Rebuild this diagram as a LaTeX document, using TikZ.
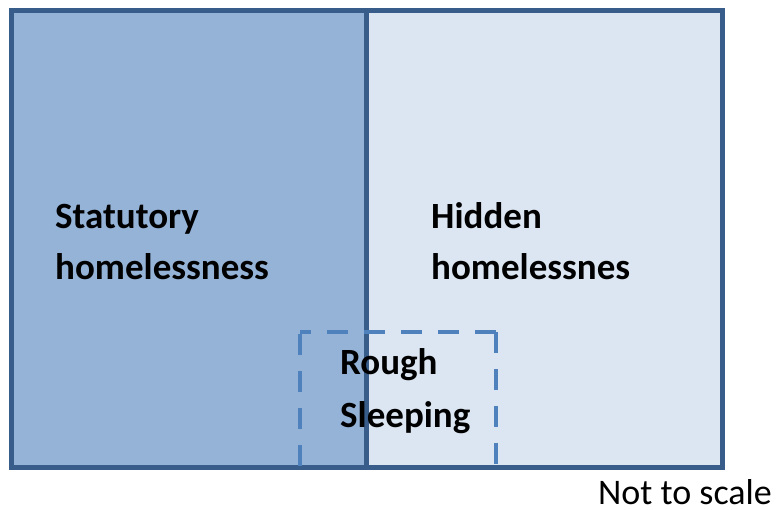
\documentclass[tikz,border=0pt]{standalone}
\usepackage{fontspec}
\setmainfont{Carlito}
\definecolor{statfill}{HTML}{95B3D7}
\definecolor{hidfill}{HTML}{DCE6F2}
\definecolor{border}{HTML}{385D8A}
\definecolor{dashcol}{HTML}{4F81BD}
\begin{document}
\begin{tikzpicture}[x=1pt,y=-1pt,
  frame/.style={draw=border,line width=5pt,line join=miter},
  roughline/.style={draw=dashcol,line width=4.5pt,dash pattern=on 21pt off 16pt},
  lbl/.style={anchor=base west,inner sep=0pt,font=\fontsize{37}{44}\selectfont\bfseries},
  note/.style={anchor=base west,inner sep=0pt,font=\fontsize{36}{43}\selectfont}]
\useasboundingbox (0,0) rectangle (777,510);
\coordinate (tl) at (11,11);
\coordinate (br) at (722,468);
\coordinate (dt) at (366,11);
\coordinate (db) at (366,468);
\fill[statfill] (tl) rectangle (db);
\fill[hidfill] (dt) rectangle (br);
\draw[frame] (tl) rectangle (br);
\draw[frame] (dt) -- (db);
% rough sleeping dashed box
\coordinate (rbl) at (300,466);
\coordinate (rtl) at (300,332);
\coordinate (rtr) at (496,332);
\coordinate (rbr) at (496,466);
\draw[roughline] (rbl) -- (rtl);
\draw[roughline] (rtr) -- (rtl);
\draw[roughline] (rtr) -- (rbr);
\node[lbl] (stat1) at (55,229) {Statutory};
\node[lbl] (stat2) at (55,280) {homelessness};
\node[lbl] (hid1) at (431,229) {Hidden};
\node[lbl] (hid2) at (431,280) {homelessnes};
\node[lbl] (rough1) at (340,375) {Rough};
\node[lbl] (rough2) at (340,428) {Sleeping};
\node[note] (scale) at (598,505) {Not to scale};
\end{tikzpicture}
\end{document}
